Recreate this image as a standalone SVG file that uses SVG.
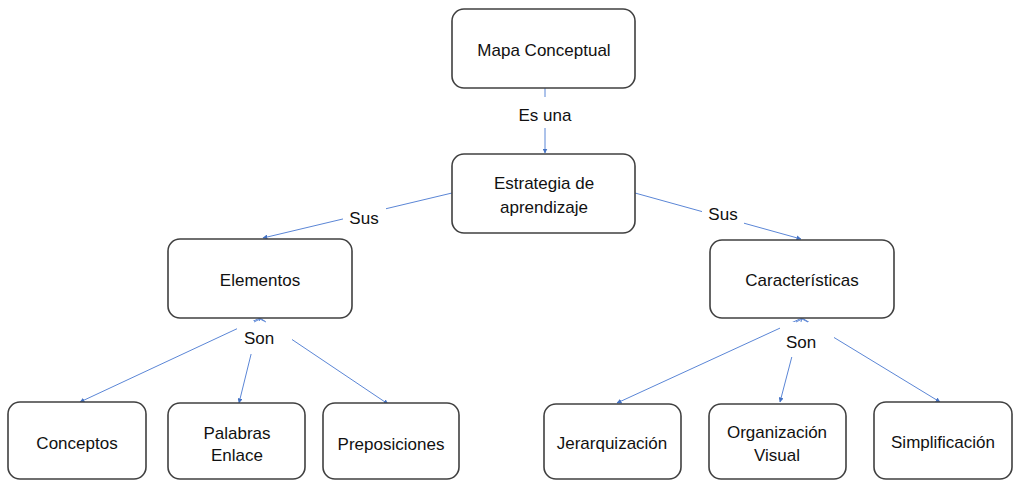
<svg xmlns="http://www.w3.org/2000/svg" width="1016" height="481" viewBox="0 0 1016 481">
<defs>
<marker id="ah" viewBox="0 0 10 10" refX="9" refY="5" markerWidth="5" markerHeight="5" orient="auto" markerUnits="userSpaceOnUse">
<path d="M0,0 L10,5 L0,10 z" fill="#4472C4"/>
</marker>
<style>
.box{fill:#fff;stroke:#404040;stroke-width:1.6}
.t{font-family:"Liberation Sans",Arial,sans-serif;font-size:17px;fill:#111;text-anchor:middle}
.c{stroke:#5b86d6;stroke-width:1;fill:none}
.bg{fill:#fff}
</style>
</defs>
<rect width="1016" height="481" fill="#fff"/>
<g id="connectors">
<line class="c" x1="545" y1="88" x2="545" y2="153" marker-end="url(#ah)"/>
<line class="c" x1="452" y1="193" x2="263" y2="238" marker-end="url(#ah)"/>
<line class="c" x1="635" y1="193" x2="801" y2="239" marker-end="url(#ah)"/>
<line class="c" x1="260" y1="318" x2="80" y2="402" marker-end="url(#ah)"/>
<line class="c" x1="260" y1="318" x2="239" y2="403" marker-end="url(#ah)"/>
<line class="c" x1="260" y1="318" x2="388" y2="404" marker-end="url(#ah)"/>
<line class="c" x1="802" y1="318" x2="617" y2="403" marker-end="url(#ah)"/>
<line class="c" x1="802" y1="318" x2="780" y2="402" marker-end="url(#ah)"/>
<line class="c" x1="802" y1="318" x2="940" y2="402" marker-end="url(#ah)"/>
<rect class="bg" x="510" y="97" width="70" height="31"/>
<rect class="bg" x="343" y="204" width="43" height="26"/>
<rect class="bg" x="702" y="200" width="42" height="26"/>
<rect class="bg" x="237" y="321" width="55" height="33"/>
<rect class="bg" x="780" y="322" width="54" height="35"/>
<polyline class="c" points="254,322 260,319 266,322"/>
<polyline class="c" points="796,322 802,319 808,322"/>
<text class="t" x="545" y="121">Es una</text>
<text class="t" x="364" y="224">Sus</text>
<text class="t" x="723" y="220">Sus</text>
<text class="t" x="259" y="344">Son</text>
<text class="t" x="801" y="348">Son</text>
</g>
<g id="mapa"><rect class="box" x="452" y="9" width="183" height="79" rx="12"/><text class="t" x="544" y="56">Mapa Conceptual</text></g>
<g id="estrategia"><rect class="box" x="452" y="154" width="183" height="79" rx="12"/><text class="t" x="544" y="189">Estrategia de</text><text class="t" x="544" y="213">aprendizaje</text></g>
<g id="elementos"><rect class="box" x="168" y="239" width="184" height="79" rx="12"/><text class="t" x="260" y="286">Elementos</text></g>
<g id="caracteristicas"><rect class="box" x="710" y="240" width="184" height="78" rx="12"/><text class="t" x="802" y="286">Características</text></g>
<g id="conceptos"><rect class="box" x="8" y="402" width="138" height="77" rx="12"/><text class="t" x="77" y="449">Conceptos</text></g>
<g id="palabras"><rect class="box" x="168" y="403" width="137" height="76" rx="12"/><text class="t" x="237" y="439">Palabras</text><text class="t" x="237" y="461">Enlace</text></g>
<g id="preposiciones"><rect class="box" x="323" y="403" width="136" height="76" rx="12"/><text class="t" x="391" y="450">Preposiciones</text></g>
<g id="jerarquizacion"><rect class="box" x="544" y="404" width="137" height="75" rx="12"/><text class="t" x="612" y="449">Jerarquización</text></g>
<g id="organizacion"><rect class="box" x="709" y="404" width="137" height="75" rx="12"/><text class="t" x="777" y="438">Organización</text><text class="t" x="777" y="461">Visual</text></g>
<g id="simplificacion"><rect class="box" x="874" y="402" width="138" height="77" rx="12"/><text class="t" x="943" y="448">Simplificación</text></g>
</svg>
